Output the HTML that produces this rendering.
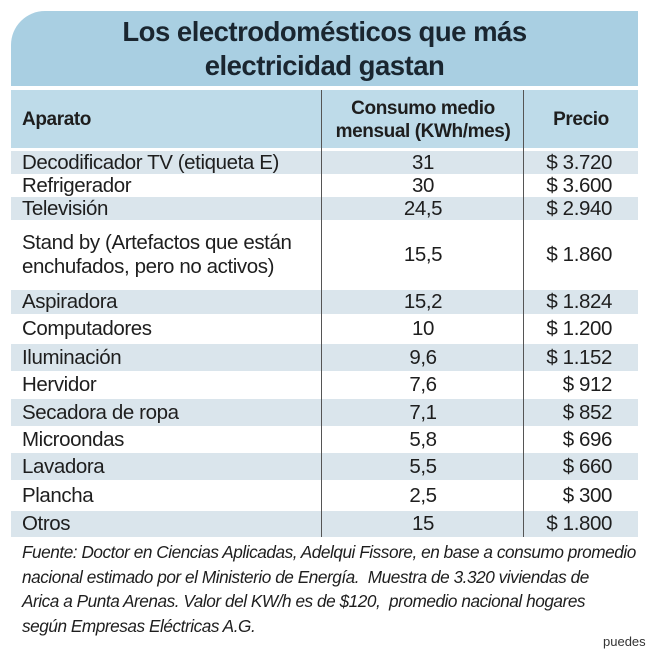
<!DOCTYPE html>
<html><head><meta charset="utf-8"><style>
body{margin:0;width:650px;height:644px;background:#fff;position:relative;overflow:hidden;font-family:"Liberation Sans",sans-serif;color:#1e1e1e}
.a{position:absolute}
.title{left:11px;top:11px;width:627px;height:75px;background:#a9cfe2;border-top-left-radius:34px;text-align:center;font-weight:bold;font-size:27.5px;line-height:34px;color:#1a2630;padding-top:4px;box-sizing:border-box;letter-spacing:-0.5px}
.hdr{left:11px;top:90px;width:627px;height:58px;background:#bedbe9}
.vl{width:1px;background:#555;top:90px;height:447px}
.r{position:absolute;left:11px;width:627px;display:flex;align-items:center;font-size:20.5px;letter-spacing:-0.4px;white-space:nowrap}
.r.s{background:#dae5ec}
.r .n{width:311px;padding-left:11px;box-sizing:border-box;line-height:24px}
.r .c{width:202px;text-align:center}
.r .p{width:114px;text-align:right;padding-right:26px;box-sizing:border-box}
.h{font-weight:bold;font-size:19px;letter-spacing:-0.4px;white-space:nowrap}
.f{left:22px;top:540px;font-style:italic;font-size:17.2px;line-height:24.5px;letter-spacing:-0.45px;white-space:nowrap}
</style></head><body>
<div class="a title">Los electrodomésticos que más<br>electricidad gastan</div>
<div class="a hdr"></div>

<div class="r s" style="top:151px;height:23px"><div class="n">Decodificador TV (etiqueta E)</div><div class="c">31</div><div class="p">$ 3.720</div></div>
<div class="r" style="top:174px;height:23px"><div class="n">Refrigerador</div><div class="c">30</div><div class="p">$ 3.600</div></div>
<div class="r s" style="top:197px;height:23px"><div class="n">Televisión</div><div class="c">24,5</div><div class="p">$ 2.940</div></div>
<div class="r" style="top:220px;height:70px"><div class="n">Stand by (Artefactos que están<br>enchufados, pero no activos)</div><div class="c">15,5</div><div class="p">$ 1.860</div></div>
<div class="r s" style="top:290px;height:24px"><div class="n">Aspiradora</div><div class="c">15,2</div><div class="p">$ 1.824</div></div>
<div class="r" style="top:314px;height:30px"><div class="n">Computadores</div><div class="c">10</div><div class="p">$ 1.200</div></div>
<div class="r s" style="top:344px;height:27px"><div class="n">Iluminación</div><div class="c">9,6</div><div class="p">$ 1.152</div></div>
<div class="r" style="top:371px;height:28px"><div class="n">Hervidor</div><div class="c">7,6</div><div class="p">$ 912</div></div>
<div class="r s" style="top:399px;height:27px"><div class="n">Secadora de ropa</div><div class="c">7,1</div><div class="p">$ 852</div></div>
<div class="r" style="top:426px;height:27px"><div class="n">Microondas</div><div class="c">5,8</div><div class="p">$ 696</div></div>
<div class="r s" style="top:453px;height:27px"><div class="n">Lavadora</div><div class="c">5,5</div><div class="p">$ 660</div></div>
<div class="r" style="top:480px;height:31px"><div class="n">Plancha</div><div class="c">2,5</div><div class="p">$ 300</div></div>
<div class="r s" style="top:511px;height:26px"><div class="n">Otros</div><div class="c">15</div><div class="p">$ 1.800</div></div>

<div class="a vl" style="left:321px"></div>
<div class="a vl" style="left:523px"></div>

<div class="a h" style="left:22px;top:109px">Aparato</div>
<div class="a h" style="left:322px;top:97px;width:202px;text-align:center;line-height:23px">Consumo medio<br>mensual (KWh/mes)</div>
<div class="a h" style="left:524px;top:109px;width:114px;text-align:center">Precio</div>

<div class="a f">Fuente: Doctor en Ciencias Aplicadas, Adelqui Fissore, en base a consumo promedio<br>nacional estimado por el Ministerio de Energía.&nbsp; Muestra de 3.320 viviendas de<br>Arica a Punta Arenas. Valor del KW/h es de $120,&nbsp; promedio nacional hogares<br>según Empresas Eléctricas A.G.</div>
<div class="a" style="left:603px;top:634px;font-size:13px;color:#333">puedes</div>
</body></html>
